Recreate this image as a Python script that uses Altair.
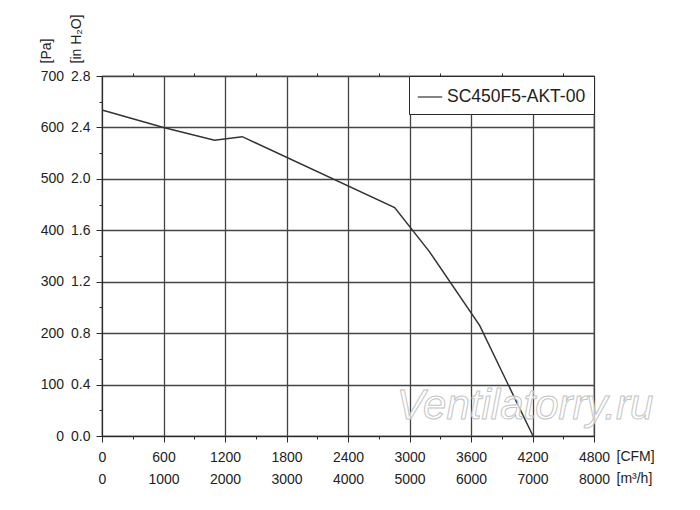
import altair as alt
import pandas as pd

# curve data
cfm = [0, 600, 1098, 1368, 2855, 3196, 3684, 4205]
pa = [634, 600, 575, 582, 444, 358, 215, 0]
series_name = "SC450F5-AKT-00"

# axis ticks / labels
x_ticks = list(range(0, 4801, 300))
x_top_ticks = list(range(300, 4800, 600))
cfm_labels = ["0", "600", "1200", "1800", "2400", "3000", "3600", "4200", "4800"]
m3h_labels = ["0", "1000", "2000", "3000", "4000", "5000", "6000", "7000", "8000"]
y_ticks = list(range(0, 701, 50))
pa_labels = ["0", "100", "200", "300", "400", "500", "600", "700"]
inh2o_labels = ["0.0", "0.4", "0.8", "1.2", "1.6", "2.0", "2.4", "2.8"]
watermark = ["Ventilatorry.ru"]

df = pd.DataFrame({"cfm": cfm, "pa": pa, "series": [series_name] * len(cfm)})


def js_list(items):
    return "[" + ",".join("'" + s + "'" for s in items) + "]"


x_label_expr = (
    "datum.value % 600 == 0 ? [" + js_list(cfm_labels) + "[datum.value/600], "
    + js_list(m3h_labels) + "[datum.value/600]] : ''"
)
y_label_expr = (
    "datum.value % 100 == 0 ? " + js_list(pa_labels) + "[datum.value/100] + '\u2002' + "
    + js_list(inh2o_labels) + "[datum.value/100] : ''"
)

ink = "#2a2a2a"
grid_c = "#444444"

x_scale = alt.Scale(domain=[0, 4800], nice=False)
y_scale = alt.Scale(domain=[0, 700], nice=False)

y_enc = alt.Y(
    "pa:Q",
    scale=y_scale,
    axis=alt.Axis(
        values=y_ticks,
        labelExpr=y_label_expr,
        labelFlush=False,
        labelOverlap=False,
        labelFontSize=14,
        labelColor="#222",
        labelPadding=6,
        tickSize={"condition": {"test": "datum.value % 100 == 0", "value": 6}, "value": 3},
        tickColor=ink,
        gridOpacity={"condition": {"test": "datum.value % 100 == 0", "value": 1}, "value": 0},
        gridColor=grid_c,
        gridWidth=1.3,
        domainColor=ink,
        title=["[Pa]", "[in H\u2082O]"],
        titleAngle=270,
        titleX=-52,
        titleY=-13,
        titleAlign="left",
        titleBaseline="alphabetic",
        titleLineHeight=30,
        titleFontSize=14,
        titleFontWeight="normal",
        titleColor="#222",
    ),
)

x_enc = alt.X(
    "cfm:Q",
    scale=x_scale,
    axis=alt.Axis(
        values=x_ticks,
        labelExpr=x_label_expr,
        labelFlush=False,
        labelOverlap=False,
        labelFontSize=14,
        labelColor="#222",
        labelPadding=8,
        labelLineHeight=22.7,
        tickSize={"condition": {"test": "datum.value % 600 == 0", "value": 6}, "value": 3},
        tickColor=ink,
        gridOpacity={"condition": {"test": "datum.value % 600 == 0", "value": 1}, "value": 0},
        gridColor=grid_c,
        gridWidth=1.3,
        domainColor=ink,
        title=["[CFM]", "[m\u00b3/h]"],
        titleX=514,
        titleY=13,
        titleAlign="left",
        titleBaseline="top",
        titleLineHeight=22.7,
        titleFontSize=14,
        titleFontWeight="normal",
        titleColor="#222",
    ),
)

main = alt.Chart(df).mark_line(color="#333", strokeWidth=1.5).encode(
    x=x_enc,
    y=y_enc,
    color=alt.Color(
        "series:N",
        scale=alt.Scale(range=["#333333"]),
        legend=alt.Legend(
            title=None,
            orient="top-right",
            offset=0,
            padding=8,
            strokeColor=ink,
            fillColor="white",
            symbolType="stroke",
            symbolSize=600,
            symbolStrokeWidth=1.2,
            labelFontSize=17.5,
            labelColor="#222",
            labelOffset=4,
        ),
    ),
)

top = alt.Chart(df).mark_line(opacity=0).encode(
    x=alt.X(
        "cfm:Q",
        scale=x_scale,
        axis=alt.Axis(
            orient="top",
            values=x_top_ticks,
            labels=False,
            domain=False,
            grid=False,
            tickSize=3,
            tickColor=ink,
            title=None,
        ),
    ),
    y=y_enc,
)

wm = alt.Chart(pd.DataFrame({"t": watermark})).mark_text(
    font="Liberation Sans",
    fontStyle="italic",
    fontSize=42,
    fill="white",
    fillOpacity=0.7,
    stroke="#c4c4c4",
    strokeWidth=1,
    align="center",
    baseline="middle",
).encode(text="t:N", x=alt.value(423), y=alt.value(330))

chart = (
    alt.layer(main, top, wm)
    .resolve_scale(x="independent")
    .properties(
        width=492,
        height=360,
        autosize=alt.AutoSizeParams(type="none"),
        padding={"left": 94, "top": 68, "right": 90, "bottom": 60},
        background="white",
    )
    .configure(font="Liberation Sans")
    .configure_view(stroke=ink, strokeWidth=1.2)
)

chart.save("out.html", embed_options={"renderer": "svg", "actions": False})
